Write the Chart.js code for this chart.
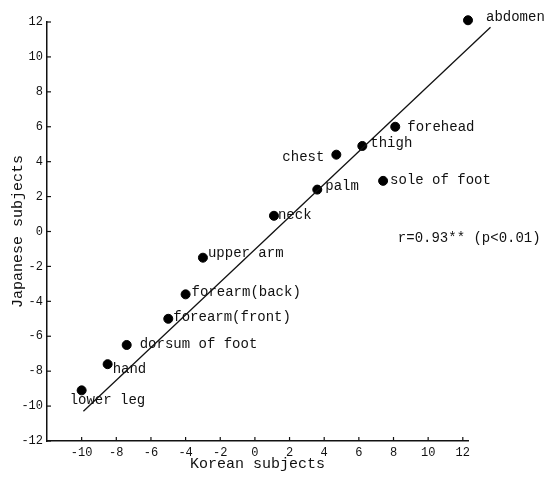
<!DOCTYPE html>
<html>
<head>
<meta charset="utf-8">
<script src="https://cdn.jsdelivr.net/npm/chart.js@4.4.1/dist/chart.umd.min.js"></script>
<style>
html,body{margin:0;padding:0;background:#fff;}
canvas{display:block;}
</style>
</head>
<body>
<canvas id="c" width="549" height="477"></canvas>
<script>
// ---- data ----
const sites = ["abdomen","forehead","thigh","chest","sole of foot","palm","neck","upper arm","forearm(back)","forearm(front)","dorsum of foot","hand","lower leg"];
const korean = [12.3, 8.1, 6.2, 4.7, 7.4, 3.6, 1.1, -3.0, -4.0, -5.0, -7.4, -8.5, -10.0];
const japanese = [12.1, 6.0, 4.9, 4.4, 2.9, 2.4, 0.9, -1.5, -3.6, -5.0, -6.5, -7.6, -9.1];
const fitLineX = [-9.9, 13.6];
const fitLineY = [-10.3, 11.7];
const xTickValues = [-10, -8, -6, -4, -2, 0, 2, 4, 6, 8, 10, 12];
const yTickValues = [12, 10, 8, 6, 4, 2, 0, -2, -4, -6, -8, -10, -12];
const annotationText = "r=0.93** (p<0.01)";
const annotationAt = [8.25, -0.4];

// ---- styles (label offsets in px relative to dot) ----
const labelStyle = [
  {dx:18, dy:-3, align:'left'},   // abdomen
  {dx:12, dy:1, align:'left'},    // forehead
  {dx:8, dy:-3, align:'left'},    // thigh
  {dx:-12, dy:3, align:'right'},  // chest
  {dx:7, dy:-1, align:'left'},    // sole of foot
  {dx:8, dy:-3, align:'left'},    // palm
  {dx:4, dy:0, align:'left'},     // neck
  {dx:5, dy:-4, align:'left'},    // upper arm
  {dx:6, dy:-2, align:'left'},    // forearm(back)
  {dx:5, dy:-1, align:'left'},    // forearm(front)
  {dx:13, dy:-1, align:'left'},   // dorsum of foot
  {dx:5, dy:5, align:'left'},     // hand
  {dx:-12, dy:10, align:'left'}   // lower leg
];
const MONO = "'Liberation Mono','DejaVu Sans Mono',monospace";

const pointLabels = {
  id:'pointLabels',
  afterDatasetsDraw(chart){
    const ctx = chart.ctx;
    const meta = chart.getDatasetMeta(1);
    ctx.save();
    ctx.fillStyle = '#111';
    ctx.font = "14px " + MONO;
    ctx.textBaseline = 'middle';
    meta.data.forEach((el, i) => {
      const s = labelStyle[i];
      ctx.textAlign = s.align;
      ctx.fillText(sites[i], el.x + s.dx, el.y + s.dy);
    });
    const xs = chart.scales.x, ys = chart.scales.y;
    ctx.textAlign = 'left';
    ctx.fillText(annotationText, xs.getPixelForValue(annotationAt[0]), ys.getPixelForValue(annotationAt[1]));
    // inward tick marks
    ctx.strokeStyle = '#111';
    ctx.lineWidth = 1.2;
    const a = chart.chartArea;
    yTickValues.forEach(v => {
      const y = ys.getPixelForValue(v);
      ctx.beginPath(); ctx.moveTo(a.left, y); ctx.lineTo(a.left + 4, y); ctx.stroke();
    });
    xTickValues.forEach(v => {
      const x = xs.getPixelForValue(v);
      ctx.beginPath(); ctx.moveTo(x, a.bottom); ctx.lineTo(x, a.bottom - 4); ctx.stroke();
    });
    ctx.restore();
  }
};

new Chart(document.getElementById('c'), {
  type: 'scatter',
  data: {
    datasets: [
      {
        type: 'line',
        data: fitLineX.map((x, i) => ({x, y: fitLineY[i]})),
        borderColor: '#111',
        borderWidth: 1.3,
        pointRadius: 0,
        fill: false,
        clip: false
      },
      {
        data: korean.map((x, i) => ({x, y: japanese[i]})),
        backgroundColor: '#000',
        borderColor: '#000',
        pointRadius: 4.5,
        clip: false
      }
    ]
  },
  options: {
    responsive: false,
    animation: false,
    devicePixelRatio: 1,
    layout: { padding: { top: 22, right: 81, left: 0, bottom: 0 } },
    plugins: { legend: { display: false }, tooltip: { enabled: false } },
    scales: {
      x: {
        type: 'linear',
        min: -12, max: 12.3,
        afterBuildTicks(s){ s.ticks = xTickValues.map(v => ({value: v})); },
        afterFit(s){ s.height = 36; },
        grid: { display: false, drawTicks: false },
        border: { display: true, color: '#111', width: 1.5 },
        ticks: { color: '#111', font: { family: MONO, size: 12 }, padding: 5, maxRotation: 0, autoSkip: false },
        title: { display: true, text: 'Korean subjects', color: '#111', font: { family: MONO, size: 15 }, padding: { top: 0, bottom: 4 } }
      },
      y: {
        type: 'linear',
        min: -12, max: 12,
        afterBuildTicks(s){ s.ticks = yTickValues.map(v => ({value: v})); },
        afterFit(s){ s.width = 47; },
        grid: { display: false, drawTicks: false },
        border: { display: true, color: '#111', width: 1.5 },
        ticks: { color: '#111', font: { family: MONO, size: 12 }, padding: 4, autoSkip: false },
        title: { display: true, text: 'Japanese subjects', color: '#111', font: { family: MONO, size: 15 }, padding: { top: 9, bottom: 0 } }
      }
    }
  },
  plugins: [pointLabels]
});
</script>
</body>
</html>
